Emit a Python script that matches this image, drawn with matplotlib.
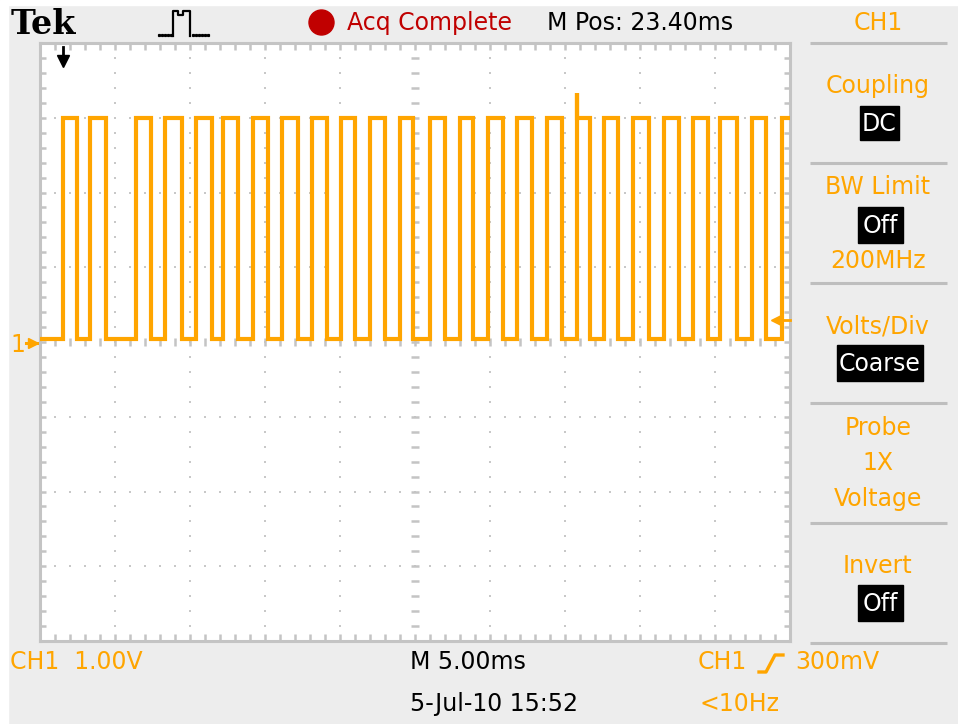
import numpy as np
import matplotlib
matplotlib.use("Agg")
import matplotlib.pyplot as plt
from matplotlib import font_manager
from matplotlib.patches import Rectangle, Circle

# Waveform (5 ms/div, 1 V/div, 10 x 8 divisions)
rise_ms = [1.53, 3.33, 6.40, 8.33, 10.40, 12.20, 14.20, 16.13, 18.13, 20.07,
           22.00, 24.00, 26.00, 28.00, 29.87, 31.80, 33.80, 35.80, 37.60, 39.53,
           41.60, 43.53, 45.33, 47.47, 49.47]
fall_ms = [2.47, 4.40, 7.40, 9.47, 11.47, 13.20, 15.20, 17.20, 19.13, 21.00,
           23.00, 24.87, 27.00, 28.87, 30.87, 32.80, 34.80, 36.67, 38.53, 40.60,
           42.60, 44.53, 46.47, 48.40]
high_v = 3.0
low_v = 0.04
glitch_ms = 35.80
glitch_v = 3.33
trig_level_v = 0.3
trig_pos_ms = 1.53

# Screen text
top_texts = ["Acq Complete", "M Pos: 23.40ms", "CH1"]
menu_titles = ["Coupling", "BW Limit", "Volts/Div", "Probe", "Invert"]
menu_boxes = ["DC", "Off", "Coarse", "Off"]
menu_plain = ["200MHz", "1X", "Voltage"]
bottom_texts = ["CH1  1.00V", "M 5.00ms", "CH1", "300mV", "5-Jul-10 15:52", "<10Hz"]

ORANGE = "#FFA500"
GRID = "#C4C4C4"
BG = "#EDEDED"

# Narrow font if present, otherwise DejaVu a bit smaller
names = {f.name for f in font_manager.fontManager.ttflist}
if "Liberation Sans Narrow" in names:
    LCD, FS = "Liberation Sans Narrow", 21
else:
    LCD, FS = "DejaVu Sans", 17

fig = plt.figure(figsize=(9.58, 7.24), dpi=100)

# Background layer in pixel coordinates
ui = fig.add_axes([0, 0, 1, 1])
ui.set_xlim(0, 958)
ui.set_ylim(724, 0)
ui.axis("off")
ui.add_patch(Rectangle((0, 0), 958, 724, color=BG, zorder=0))
ui.add_patch(Rectangle((0, 0), 8, 724, color="white", zorder=0))
ui.add_patch(Rectangle((0, 0), 958, 5, color="white", zorder=0))

# Header
ui.text(11, 25, "Tek", family="DejaVu Serif", weight="heavy", fontsize=24,
        va="center", ha="left")
ui.plot([159, 162, 165, 168, 171], [35] * 5, "s", color="black", ms=1.3)
ui.plot([173, 173, 178, 178, 183, 183, 190, 190], [36, 11, 11, 15, 15, 11, 11, 36],
        color="black", lw=1.6)
ui.plot([193, 196, 199, 202, 205, 208], [35] * 6, "s", color="black", ms=1.3)
ui.add_patch(Circle((321.5, 22.5), 12.5, color="#C00000", zorder=2))
ui.text(347, 23, top_texts[0], family=LCD, fontsize=FS, color="#C00000", va="center")
ui.text(547, 23, top_texts[1], family=LCD, fontsize=FS, color="black", va="center")
ui.text(878, 23, top_texts[2], family=LCD, fontsize=FS, color=ORANGE,
        va="center", ha="center")

# Side menu
for y in [43, 163, 283, 403, 523, 643]:
    ui.plot([810, 947], [y, y], color="#BEBEBE", lw=2.2, solid_capstyle="butt")

title_y = [86, 187, 326, 428, 566]
for t, y in zip(menu_titles, title_y):
    ui.text(878, y, t, family=LCD, fontsize=FS, color=ORANGE, ha="center", va="center")

box_xy = [(860, 106, 39, 34), (858, 207, 45, 36), (837, 345, 86, 36), (858, 585, 45, 36)]
for t, (bx, by, bw, bh) in zip(menu_boxes, box_xy):
    ui.add_patch(Rectangle((bx, by), bw, bh, color="black", zorder=2))
    ui.text(bx + bw / 2, by + bh / 2 + 1, t, family=LCD, fontsize=FS, color="white",
            ha="center", va="center", zorder=3)

plain_y = [261, 463, 499]
for t, y in zip(menu_plain, plain_y):
    ui.text(878, y, t, family=LCD, fontsize=FS, color=ORANGE, ha="center", va="center")

# Footer
ui.text(10, 662, bottom_texts[0], family=LCD, fontsize=FS, color=ORANGE, va="center")
ui.text(410, 662, bottom_texts[1], family=LCD, fontsize=FS, color="black", va="center")
ui.text(698, 662, bottom_texts[2], family=LCD, fontsize=FS, color=ORANGE, va="center")
ui.plot([759, 766, 775, 783], [672, 672, 655, 655], color=ORANGE, lw=2.4)
ui.text(795, 662, bottom_texts[3], family=LCD, fontsize=FS, color=ORANGE, va="center")
ui.text(410, 704, bottom_texts[4], family=LCD, fontsize=FS, color="black", va="center")
ui.text(700, 704, bottom_texts[5], family=LCD, fontsize=FS, color=ORANGE, va="center")

# Ground marker for channel 1
ui.text(10, 345, "1", family=LCD, fontsize=17, color=ORANGE, va="center")
ui.plot([26, 37], [343, 343], color=ORANGE, lw=2.2)
ui.plot([33], [343], ">", color=ORANGE, ms=7)

# Graticule
ax = fig.add_axes([40 / 958, 1 - 641 / 724, 750 / 958, 598 / 724], zorder=2)
ax.set_xlim(0, 50)
ax.set_ylim(-4, 4)
ax.set_xticks([])
ax.set_yticks([])
for s in ax.spines.values():
    s.set_color(GRID)
    s.set_linewidth(2.2)

minor_x = np.arange(1, 50)
minor_y = np.round(np.arange(-3.8, 4.0, 0.2), 2)

# dotted division lines
for gx in [5, 10, 15, 20, 30, 35, 40, 45]:
    ax.plot(np.full(len(minor_y), gx), minor_y, "s", color="#C8C8C8", ms=1.7, mew=0)
for gy in [-3, -2, -1, 1, 2, 3]:
    ax.plot(minor_x, np.full(len(minor_x), gy), "s", color="#C8C8C8", ms=1.7, mew=0)

# center cross ticks
ax.hlines(minor_y, 24.75, 25.25, color=GRID, lw=1.8)
ax.vlines(minor_x, -0.06, 0.06, color=GRID, lw=1.8)

# border ticks
ax.vlines(minor_x, 3.9, 4, color=GRID, lw=1.8)
ax.vlines(minor_x, -4, -3.9, color=GRID, lw=1.8)
ax.hlines(minor_y, 0, 0.42, color=GRID, lw=1.8)
ax.hlines(minor_y, 49.58, 50, color=GRID, lw=1.8)

# Build the square wave from the edges
t = [0.0]
v = [low_v]
edges = sorted([(r, 1) for r in rise_ms] + [(f, 0) for f in fall_ms])
level = low_v
for te, up in edges:
    new = high_v if up else low_v
    t += [te, te]
    v += [level, new]
    level = new
    if up and abs(te - glitch_ms) < 1e-6:
        t += [te, te]
        v += [glitch_v, high_v]
t.append(50.0)
v.append(level)
ax.plot(t, v, color=ORANGE, lw=3.0, solid_joinstyle="miter", zorder=4)

# trigger position and trigger level markers
ax.plot([trig_pos_ms, trig_pos_ms], [3.95, 3.8], color="black", lw=2, zorder=5)
ax.plot([trig_pos_ms], [3.76], "v", color="black", ms=9, zorder=5)
ax.plot([49.05, 50], [trig_level_v, trig_level_v], color=ORANGE, lw=2, zorder=5,
        clip_on=False)
ax.plot([49.05], [trig_level_v], "<", color=ORANGE, ms=7, zorder=5)

fig.savefig("out.png", dpi=100, facecolor=BG)
